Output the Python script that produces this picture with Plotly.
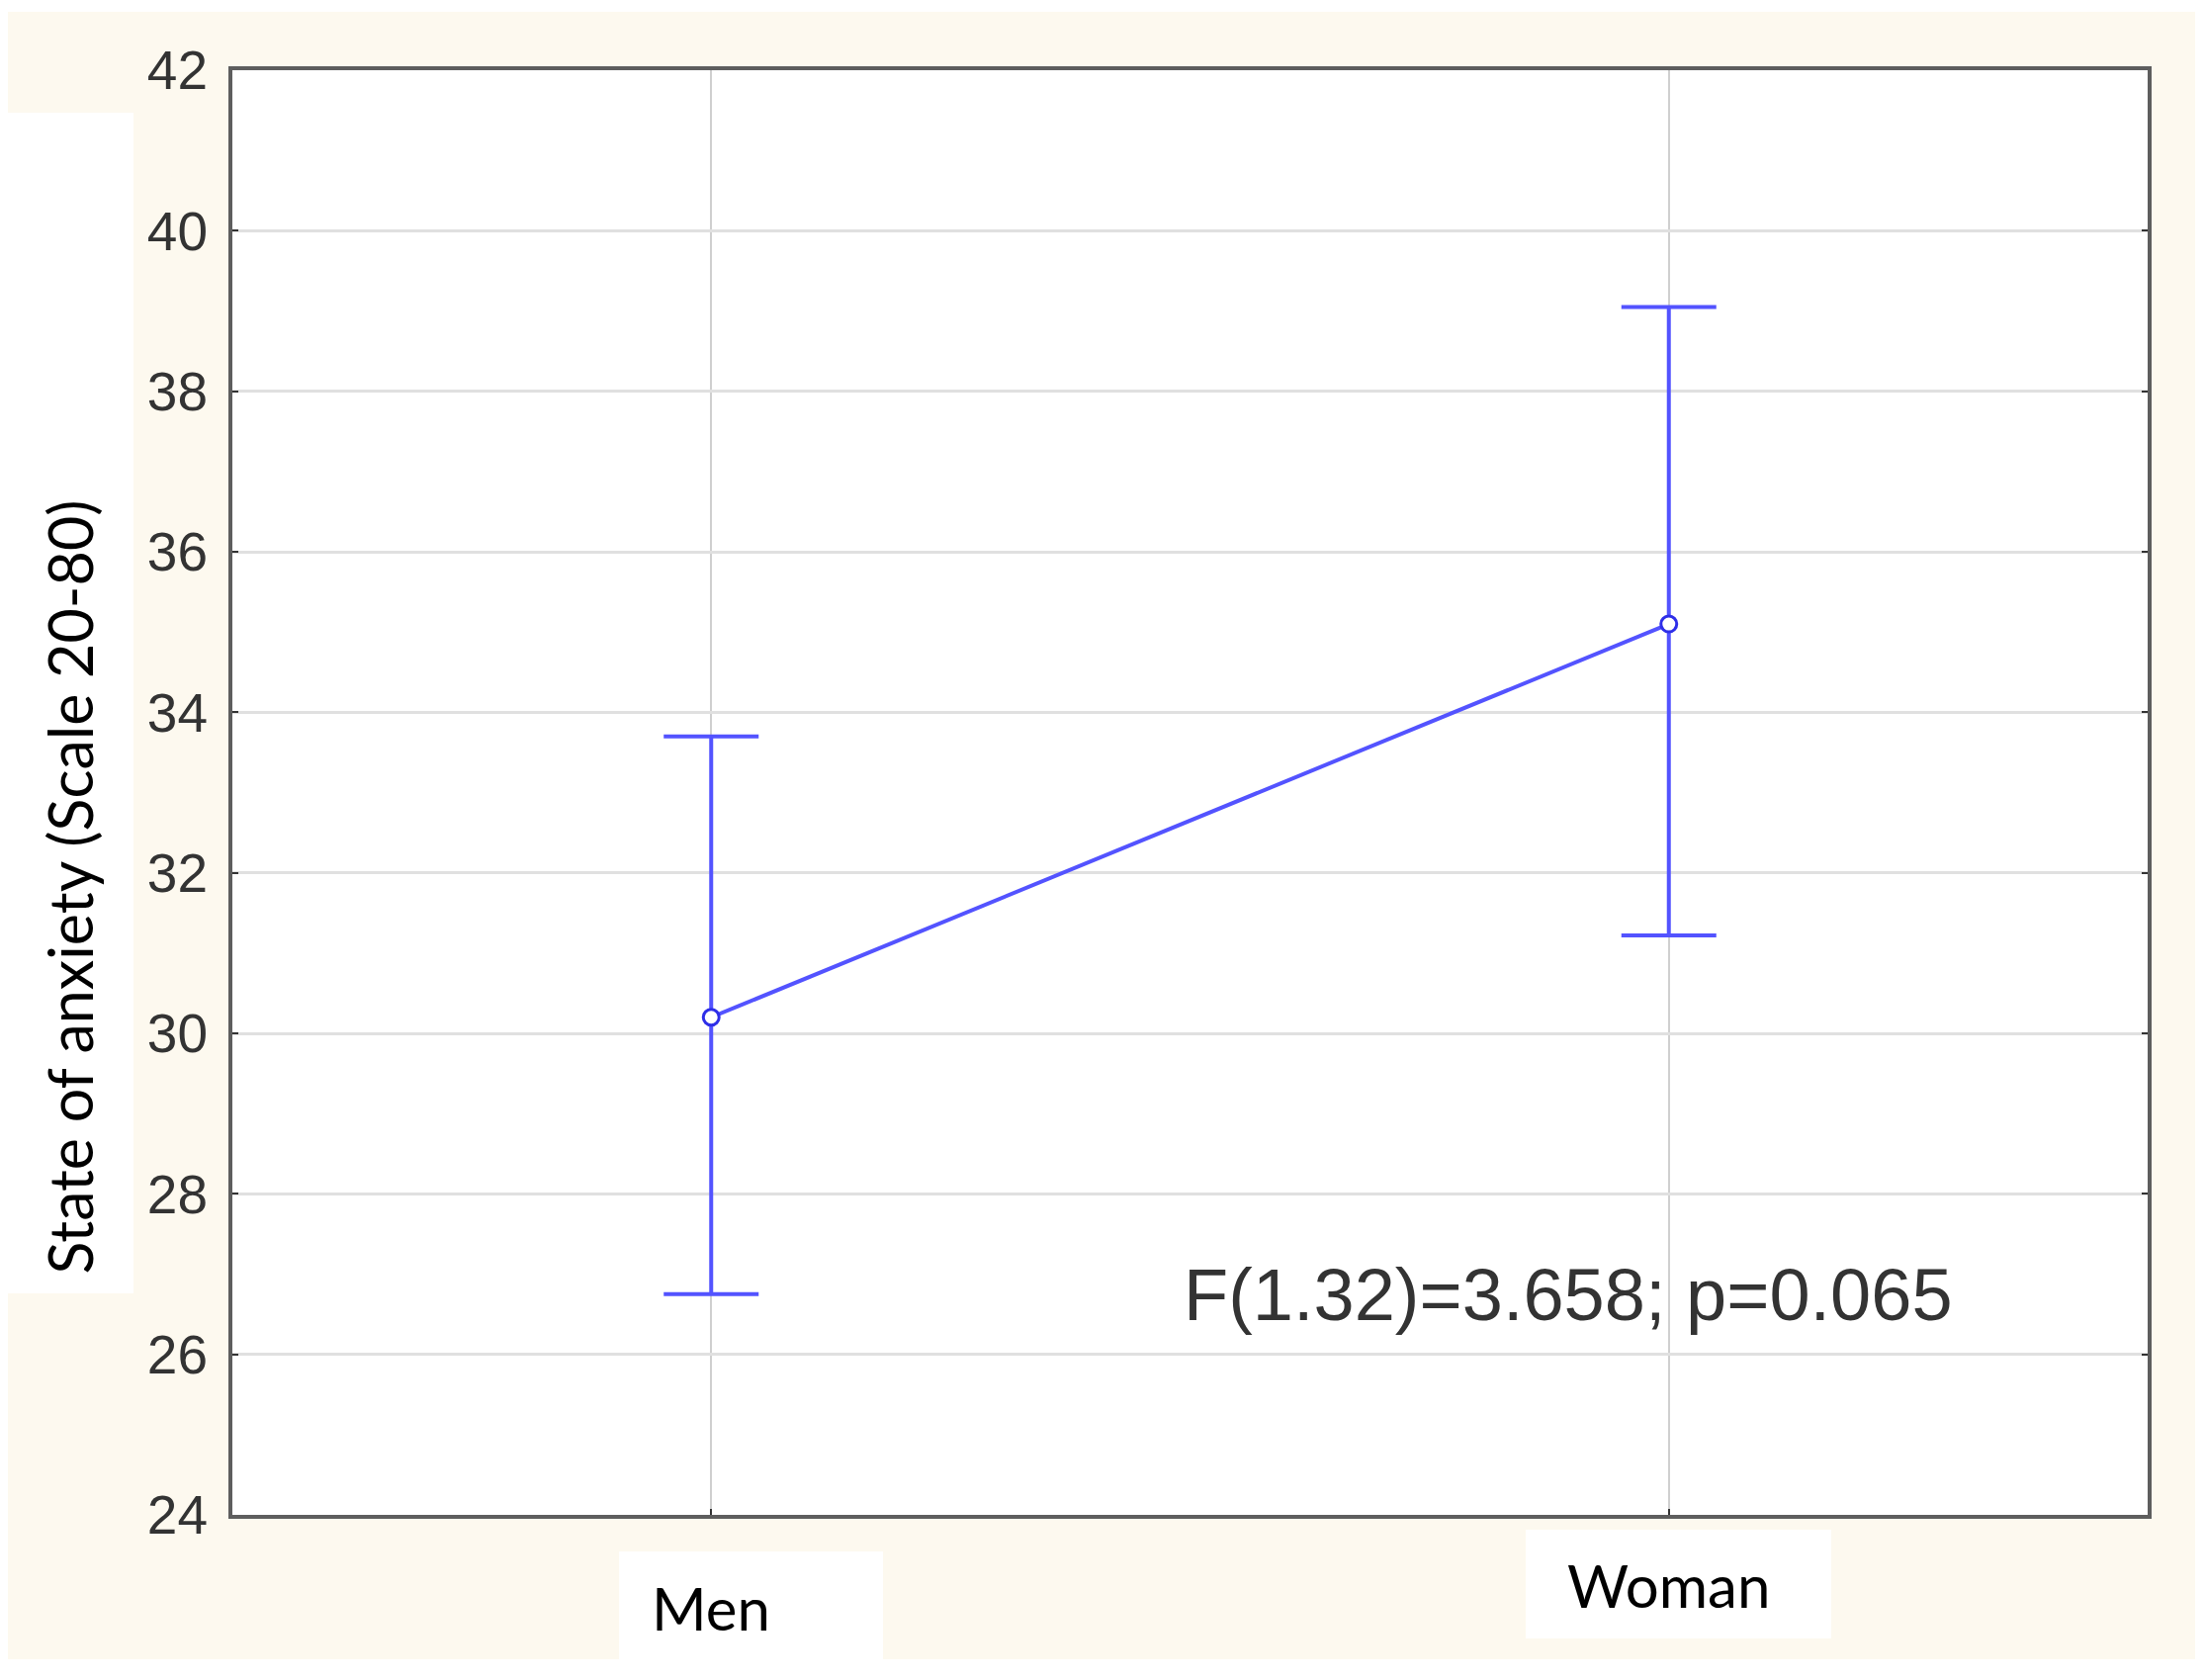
import plotly.graph_objects as go

# ---------------------------------------------------------------------------
# Data
# ---------------------------------------------------------------------------
groups = ["Men", "Woman"]
means = [30.2, 35.1]
ci_upper = [33.7, 39.05]
ci_lower = [26.75, 31.22]
y_ticks = [24, 26, 28, 30, 32, 34, 36, 38, 40, 42]
y_title = "State of anxiety (Scale 20-80)"
stat_text = "F(1.32)=3.658; p=0.065"

err_plus = [u - m for u, m in zip(ci_upper, means)]
err_minus = [m - l for m, l in zip(means, ci_lower)]

CREAM = "#fdf9ef"
BLUE = "#5353ff"

fig = go.Figure()
fig.add_trace(go.Scatter(
    x=groups, y=means,
    mode="lines+markers",
    line=dict(color=BLUE, width=4),
    marker=dict(symbol="circle", size=16, color="white",
                line=dict(color="#2e2ee8", width=3)),
    error_y=dict(type="data", symmetric=False, array=err_plus,
                 arrayminus=err_minus, color=BLUE, thickness=4, width=48),
    showlegend=False,
))


# white patches of the original composite image
def rect(x0, y0, x1, y1):
    return dict(type="rect", xref="paper", yref="paper", x0=x0, y0=y0,
                x1=x1, y1=y1, fillcolor="white", line_width=0, layer="below")


shapes = [
    rect(-0.125, 0.1533, -0.0516, 0.9706),   # behind y title
    rect(0.2019, -0.0999, 0.3397, -0.0253),  # behind "Men"
    rect(0.6753, -0.0856, 0.8348, -0.0103),  # behind "Woman"
    rect(-0.125, 1.0404, 1.05, 1.07),        # top strip
    rect(-0.125, -0.13, 1.05, -0.0999),      # bottom strip
    rect(1.0248, -0.13, 1.05, 1.07),         # right strip
]

annotations = [
    dict(text=y_title, textangle=-90, xref="paper", yref="paper",
         x=-0.0847, y=0.435, showarrow=False, xanchor="center", yanchor="middle",
         font=dict(family="Lato", size=61, color="black")),
    dict(text=stat_text, xref="paper", yref="paper", x=0.4956, y=0.152,
         xanchor="left", yanchor="middle", showarrow=False,
         font=dict(family="Liberation Sans", size=74, color="#333333")),
]
for g, yy in zip(groups, [-0.0643, -0.0486]):
    annotations.append(dict(text=g, xref="x", yref="paper", x=g, y=yy,
                            showarrow=False, xanchor="center", yanchor="middle",
                            font=dict(family="Lato", size=60, color="black")))

# the page body adds ~8 px offset, so margins are shifted to keep the plot box in place
fig.update_layout(
    width=2230, height=1699,
    paper_bgcolor=CREAM,
    plot_bgcolor="white",
    margin=dict(l=227, r=66, t=63, b=175, autoexpand=False),
    shapes=shapes,
    annotations=annotations,
)
fig.update_xaxes(
    type="category", range=[-0.5, 1.5],
    showgrid=True, gridcolor="#cfcfcf", gridwidth=1.5,
    showline=True, linecolor="#5e5e5e", linewidth=4, mirror=True,
    ticks="inside", ticklen=6, tickcolor="#333333", tickwidth=2,
    showticklabels=False, zeroline=False,
)
fig.update_yaxes(
    range=[24, 42], tickvals=y_ticks,
    showgrid=True, gridcolor="#e0e0e0", gridwidth=3,
    showline=True, linecolor="#5e5e5e", linewidth=4, mirror="ticks",
    ticks="inside", ticklen=6, tickcolor="#333333", tickwidth=2,
    tickfont=dict(family="Liberation Sans", size=55, color="#333333"),
    ticklabelstandoff=10, zeroline=False,
)

fig.write_html("out.html")
